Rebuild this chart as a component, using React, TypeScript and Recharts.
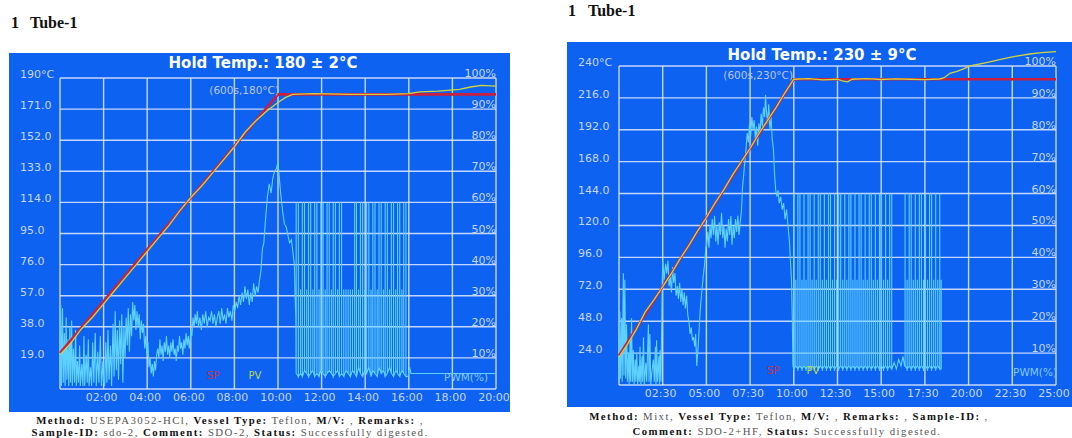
import { ComposedChart, Line, XAxis, YAxis, ReferenceLine } from 'recharts';

const FONT = '"DejaVu Sans", sans-serif';
const BG = '#0d62f2';
const GRID = 'rgba(228,236,255,0.85)';
const LABEL = '#c6d6ff';
const SP_COLOR = '#c8203e';
const PV_COLOR = '#d2d43c';
const PWM_COLOR = '#5ed2ff';

type Pt = [number, number];
// heater pulse: [time s, peak %, floor %]
type Pulse = [number, number, number];

// ---- left run: 20 min, hold 180 °C ----
const leftTimeTicks = [0, 120, 240, 360, 480, 600, 720, 840, 960, 1080, 1200];
const leftTempTicks = [0, 19, 38, 57, 76, 95, 114, 133, 152, 171, 190];
const pctTicks = [10, 20, 30, 40, 50, 60, 70, 80, 90, 100];

const leftSP: Pt[] = [[0, 22], [600, 180], [1200, 180]];
const leftPV: Pt[] = [
  [0, 21], [30, 28], [60, 37], [90, 44], [120, 52], [150, 60], [180, 68], [210, 76], [240, 84],
  [270, 92], [300, 100], [330, 109], [360, 117], [390, 124], [420, 132], [450, 140], [480, 148],
  [510, 157], [540, 164], [570, 170], [600, 175], [620, 178], [640, 180], [700, 180.5], [800, 180],
  [900, 180], [960, 180.5], [990, 181.5], [1040, 182], [1100, 183], [1130, 184.5], [1160, 185.5], [1200, 185],
];
const leftPwmRamp: Pt[] = [
  [0, 2], [2, 27], [4, 1], [7, 26], [9, 2], [12, 18], [14, 1], [17, 23], [19, 3], [22, 16], [24, 1], [27, 20],
  [29, 2], [32, 22], [34, 1], [37, 13], [40, 2], [43, 19], [45, 1], [48, 9], [51, 2], [54, 14], [56, 1], [60, 8],
  [63, 1], [66, 17], [68, 1], [72, 11], [75, 2], [78, 16], [80, 1], [84, 7], [87, 1], [90, 15], [93, 2], [97, 18],
  [100, 1], [104, 12], [107, 2], [111, 17], [114, 1], [118, 9], [120, 2], [123, 1], [126, 15], [129, 2], [132, 19],
  [135, 3], [139, 14], [142, 1], [146, 21], [149, 4], [152, 25], [155, 6], [158, 19], [161, 3], [164, 22], [167, 8],
  [170, 24], [173, 2], [176, 20], [179, 10], [182, 23], [185, 14], [188, 26], [191, 12], [194, 24], [197, 17],
  [200, 28], [203, 22], [206, 27], [209, 19], [212, 25], [215, 20], [218, 24], [221, 16], [224, 22], [227, 18],
  [230, 21], [233, 13], [236, 17], [239, 11], [242, 15], [245, 7], [248, 10], [251, 5], [254, 8], [257, 4], [260, 9],
  [263, 6], [266, 11], [269, 13], [272, 10], [275, 16], [278, 11], [281, 14], [284, 9], [287, 15], [290, 12],
  [293, 17], [296, 11], [299, 14], [302, 10], [305, 15], [308, 12], [311, 16], [314, 11], [317, 13], [320, 9],
  [323, 14], [326, 12], [329, 17], [332, 13], [335, 15], [338, 11], [341, 16], [344, 13], [347, 18], [350, 14],
  [353, 17], [356, 13], [360, 19], [363, 17], [366, 23], [369, 20], [372, 24], [375, 21], [378, 25], [381, 20],
  [385, 23], [389, 19], [393, 24], [397, 21], [401, 25], [405, 20], [409, 23], [413, 22], [417, 25], [421, 21],
  [425, 24], [429, 20], [433, 23], [437, 25], [441, 21], [445, 26], [449, 22], [453, 24], [457, 21], [461, 26],
  [465, 23], [469, 25], [473, 22], [477, 27], [481, 25], [485, 28], [489, 26], [493, 30], [497, 27], [501, 31],
  [505, 28], [509, 33], [513, 29], [517, 32], [521, 27], [525, 31], [529, 28], [533, 34], [537, 30], [541, 33],
  [545, 31], [549, 35], [553, 38], [557, 45], [561, 47], [566, 55], [571, 62], [576, 66], [581, 63], [586, 68],
  [591, 70], [596, 71], [600, 73], [605, 66], [609, 61], [614, 56], [618, 53], [623, 52], [628, 49], [632, 47],
  [637, 48], [641, 44], [645, 40], [647, 30], [649, 23],
];
const leftPulses: Pulse[] = [
  [650, 60, 5], [656, 60, 4], [662, 32, 5], [667, 60, 4], [673, 60, 6], [679, 32, 5], [684, 60, 4], [690, 60, 5],
  [696, 32, 6], [701, 60, 4], [707, 60, 5], [713, 32, 4], [718, 60, 6], [724, 60, 5], [730, 32, 4], [735, 60, 5],
  [741, 60, 6], [747, 32, 5], [752, 60, 4], [758, 60, 5], [764, 32, 6], [769, 60, 4], [775, 60, 5], [781, 32, 4],
  [787, 32, 6], [793, 32, 5], [799, 32, 4], [805, 32, 6], [811, 60, 5], [816, 60, 4], [822, 32, 7], [827, 60, 5],
  [833, 60, 4], [839, 32, 6], [844, 60, 5], [850, 60, 7], [856, 32, 4], [861, 60, 6], [867, 60, 5], [873, 32, 4],
  [878, 60, 7], [884, 60, 5], [890, 32, 6], [895, 60, 4], [901, 60, 5], [907, 32, 7], [912, 60, 5], [918, 60, 4],
  [924, 32, 6], [929, 60, 5], [935, 60, 4], [941, 32, 6], [946, 60, 5], [952, 60, 4],
];
const leftPwmTail: Pt[] = [[958, 4], [962, 7], [966, 5], [975, 5], [1000, 5], [1100, 5], [1200, 5]];

// ---- right run: 25 min, hold 230 °C ----
const rightTimeTicks = [0, 150, 300, 450, 600, 750, 900, 1050, 1200, 1350, 1500];
const rightTempTicks = [0, 24, 48, 72, 96, 120, 144, 168, 192, 216, 240];

const rightSP: Pt[] = [[0, 22], [600, 230], [1500, 230]];
const rightPV: Pt[] = [
  [0, 21], [30, 31], [60, 42], [90, 55], [120, 64], [150, 74], [180, 84], [210, 95], [240, 105], [270, 116],
  [300, 126], [330, 137], [360, 147], [390, 158], [420, 168], [450, 178], [480, 189], [510, 199], [540, 209],
  [570, 220], [600, 230], [650, 230.5], [700, 229.5], [750, 230], [770, 228.5], [785, 228], [800, 230],
  [850, 230.5], [900, 229.8], [950, 230.3], [1000, 230], [1050, 229.7], [1100, 230.2], [1115, 231], [1136, 234.5],
  [1160, 236], [1185, 238], [1204, 240], [1240, 241.5], [1273, 243], [1310, 245], [1342, 246.5], [1380, 248],
  [1410, 249], [1450, 250], [1500, 250.8],
];
const rightPwmRamp: Pt[] = [
  [0, 1], [3, 23], [5, 2], [9, 21], [11, 1], [15, 35], [17, 3], [20, 33], [23, 2], [26, 19], [29, 1], [33, 10],
  [35, 0], [38, 14], [40, 1], [43, 21], [46, 1], [49, 11], [52, 0], [56, 8], [58, 1], [61, 10], [64, 0], [68, 6],
  [70, 1], [72, 12], [75, 0], [79, 9], [81, 1], [84, 15], [87, 0], [92, 7], [95, 1], [101, 19], [103, 1], [106, 16],
  [109, 0], [114, 5], [118, 8], [121, 1], [125, 12], [127, 0], [129, 14], [132, 1], [137, 9], [139, 0], [141, 11],
  [144, 1], [148, 30], [150, 39], [155, 33], [160, 38], [164, 35], [168, 39], [172, 31], [176, 34], [180, 29],
  [184, 37], [188, 32], [192, 35], [196, 28], [200, 31], [204, 27], [208, 32], [212, 26], [216, 30], [220, 25],
  [224, 29], [228, 24], [232, 28], [236, 22], [240, 20], [244, 16], [248, 18], [252, 14], [256, 15], [260, 12],
  [263, 16], [267, 6], [270, 10], [273, 14], [276, 19], [280, 25], [284, 29], [289, 34], [294, 38], [298, 43],
  [301, 44], [305, 48], [309, 43], [312, 50], [316, 46], [320, 52], [324, 47], [328, 53], [332, 45], [336, 50],
  [340, 44], [344, 51], [348, 47], [352, 54], [356, 46], [360, 50], [364, 43], [368, 49], [372, 45], [376, 52],
  [380, 47], [384, 53], [388, 44], [392, 50], [396, 46], [400, 52], [404, 48], [408, 53], [412, 47], [416, 51],
  [420, 54], [424, 62], [428, 66], [432, 70], [436, 74], [440, 79], [444, 76], [448, 82], [452, 78], [456, 84],
  [460, 80], [464, 83], [468, 77], [472, 81], [476, 75], [480, 82], [484, 79], [488, 85], [492, 81], [496, 87],
  [500, 84], [503, 91], [506, 86], [510, 82], [514, 88], [518, 80], [522, 84], [526, 77], [530, 74], [534, 66],
  [538, 61], [542, 59], [546, 61], [550, 57], [555, 59], [560, 55], [565, 57], [570, 52], [575, 55], [580, 50],
  [585, 45], [589, 38], [592, 33], [595, 20], [597, 6],
];
const rightPulsesA: Pulse[] = [
  [600, 60, 5], [607, 33, 6], [614, 60, 5], [621, 60, 6], [628, 33, 5], [635, 60, 6], [642, 33, 5], [649, 60, 6],
  [656, 60, 5], [663, 33, 6], [670, 60, 5], [677, 33, 6], [684, 60, 5], [691, 60, 6], [698, 33, 5], [705, 60, 6],
  [712, 33, 5], [719, 60, 6], [726, 60, 5], [733, 33, 6], [740, 60, 5], [747, 33, 6], [754, 60, 5], [761, 60, 6],
  [768, 33, 5], [775, 60, 6], [782, 33, 5], [789, 60, 6], [796, 60, 5], [803, 33, 6], [810, 60, 5], [817, 33, 6],
  [824, 60, 5], [831, 60, 6], [838, 33, 5], [845, 60, 6], [852, 33, 5], [859, 60, 6], [866, 60, 5], [873, 33, 6],
  [880, 60, 5], [887, 33, 6], [894, 60, 5], [901, 60, 6], [908, 33, 5], [915, 60, 6], [922, 33, 5], [929, 60, 6],
  [936, 60, 5],
];
const rightPwmGap: Pt[] = [[945, 7], [952, 5], [960, 8], [968, 6], [975, 9], [980, 6]];
const rightPulsesB: Pulse[] = [
  [982, 60, 6], [989, 33, 5], [996, 60, 6], [1003, 60, 5], [1010, 33, 6], [1017, 60, 5], [1024, 33, 6],
  [1031, 60, 5], [1038, 60, 6], [1045, 33, 5], [1052, 60, 6], [1059, 33, 5], [1066, 60, 6], [1073, 60, 5],
  [1080, 33, 6], [1087, 60, 5], [1094, 33, 6], [1101, 60, 5], [1106, 33, 5],
];
const rightPwmTail: Pt[] = [[1108, 5]];

const toRows = (pts: Pt[]) => pts.map(([t, v]) => ({ t, v }));
// each pulse is a vertical stroke floor -> peak -> floor at its time
const pulseRows = (ps: Pulse[]) =>
  ps.flatMap(([t, hi, lo]) => [{ t, v: lo }, { t, v: hi }, { t, v: lo }]);

const leftPWM = [...toRows(leftPwmRamp), ...pulseRows(leftPulses), ...toRows(leftPwmTail)];
const rightPWM = [
  ...toRows(rightPwmRamp), ...pulseRows(rightPulsesA), ...toRows(rightPwmGap),
  ...pulseRows(rightPulsesB), ...toRows(rightPwmTail),
];

const mmss = (s: number) => {
  const m = Math.floor(s / 60);
  const r = s % 60;
  return `${String(m).padStart(2, '0')}:${String(r).padStart(2, '0')}`;
};

interface RunCfg {
  w: number;
  h: number;
  top: number;
  leftW: number;
  rightW: number;
  axisH: number;
  timeTicks: number[];
  tempTicks: number[];
  tempDomain: [number, number];
  pctDomain: [number, number];
  sp: Pt[];
  pv: Pt[];
  pwm: { t: number; v: number }[];
}

function RunChart({ cfg }: { cfg: RunCfg }) {
  const tMax = cfg.timeTicks[cfg.timeTicks.length - 1];
  const tempTop = cfg.tempTicks[cfg.tempTicks.length - 1];
  const txt = { fill: LABEL, fontSize: 11, fontFamily: FONT };

  return (
    <ComposedChart width={cfg.w} height={cfg.h} margin={{ top: cfg.top, right: 0, bottom: 0, left: 0 }}>
      <XAxis
        type="number"
        dataKey="t"
        domain={[0, tMax]}
        ticks={cfg.timeTicks.slice(1)}
        interval={0}
        height={cfg.axisH}
        axisLine={false}
        tickLine={false}
        tickSize={0}
        tickMargin={0}
        tick={(p: any) => (
          <text x={p.x - 2} y={p.y + 12} textAnchor="middle" {...txt}>{mmss(p.payload.value)}</text>
        )}
      />
      <YAxis
        yAxisId="temp"
        type="number"
        domain={cfg.tempDomain}
        ticks={cfg.tempTicks.slice(1)}
        interval={0}
        width={cfg.leftW}
        axisLine={false}
        tickLine={false}
        tickSize={0}
        tickMargin={0}
        tick={(p: any) => (
          <text x={p.x - cfg.leftW + 11} y={p.y} textAnchor="start" {...txt}>
            {p.payload.value === tempTop ? `${tempTop}°C` : Number(p.payload.value).toFixed(1)}
          </text>
        )}
      />
      <YAxis
        yAxisId="pct"
        orientation="right"
        type="number"
        domain={cfg.pctDomain}
        ticks={pctTicks}
        interval={0}
        width={cfg.rightW}
        axisLine={false}
        tickLine={false}
        tickSize={0}
        tickMargin={0}
        tick={(p: any) => (
          <text x={p.x} y={p.y - 1} textAnchor="end" {...txt}>{`${p.payload.value}%`}</text>
        )}
      />
      {cfg.tempTicks.map((v) => (
        <ReferenceLine key={`h${v}`} yAxisId="temp" y={v} stroke={GRID} strokeWidth={1.4} />
      ))}
      {cfg.timeTicks.map((t) => (
        <ReferenceLine
          key={`v${t}`}
          yAxisId="temp"
          segment={[{ x: t, y: 0 }, { x: t, y: tempTop }]}
          stroke={GRID}
          strokeWidth={1.4}
        />
      ))}
      <Line yAxisId="pct" data={cfg.pwm} dataKey="v" type="linear" stroke={PWM_COLOR} strokeWidth={1.1} dot={false} isAnimationActive={false} />
      <Line yAxisId="temp" data={toRows(cfg.sp)} dataKey="v" type="linear" stroke={SP_COLOR} strokeWidth={2.6} dot={false} isAnimationActive={false} />
      <Line yAxisId="temp" data={toRows(cfg.pv)} dataKey="v" type="linear" stroke={PV_COLOR} strokeWidth={1.3} dot={false} isAnimationActive={false} />
    </ComposedChart>
  );
}

const abs = (extra: React.CSSProperties): React.CSSProperties => ({ position: 'absolute', whiteSpace: 'nowrap', ...extra });
const B = ({ children }: { children: React.ReactNode }) => <b style={{ color: '#111' }}>{children}</b>;

export default function App() {
  const chartText = { fontFamily: FONT, lineHeight: '14px' };
  const caption = { fontSize: 10.8, lineHeight: '12px', height: 12, letterSpacing: 1.45, transform: 'translateX(-50%)' };
  return (
    <div style={{ position: 'absolute', left: 0, top: 0, width: 1072, height: 438, overflow: 'hidden', background: '#fff', fontFamily: '"Liberation Serif", serif', color: '#555' }}>
      {/* headings */}
      <div style={abs({ left: 11, top: 14, fontSize: 16, fontWeight: 700, color: '#111' })}>1</div>
      <div style={abs({ left: 30, top: 14, fontSize: 16, fontWeight: 700, color: '#111' })}>Tube-1</div>
      <div style={abs({ left: 568, top: 2, fontSize: 16, fontWeight: 700, color: '#111' })}>1</div>
      <div style={abs({ left: 588, top: 2, fontSize: 16, fontWeight: 700, color: '#111' })}>Tube-1</div>

      {/* left run */}
      <div style={abs({ left: 9, top: 53, width: 501, height: 359, background: BG })}>
        <RunChart
          cfg={{
            w: 501, h: 359, top: 25, leftW: 51, rightW: 14, axisH: 23,
            timeTicks: leftTimeTicks, tempTicks: leftTempTicks, tempDomain: [0, 190], pctDomain: [0, 100],
            sp: leftSP, pv: leftPV, pwm: leftPWM,
          }}
        />
        <div style={abs({ ...chartText, left: 254, top: 1, transform: 'translateX(-50%)', fontSize: 15, fontWeight: 700, color: '#fff', lineHeight: '18px' })}>Hold Temp.: 180 ± 2°C</div>
        <div style={abs({ ...chartText, right: 231, top: 30, fontSize: 10.5, color: '#b9c6ea' })}>(600s,180°C)</div>
        <div style={abs({ ...chartText, left: 204, top: 316, transform: 'translateX(-50%)', fontSize: 10, color: '#c8304a' })}>SP</div>
        <div style={abs({ ...chartText, left: 246, top: 316, transform: 'translateX(-50%)', fontSize: 10, color: '#b9d84a' })}>PV</div>
        <div style={abs({ ...chartText, right: 22, top: 317, fontSize: 10.5, color: '#86c8ff' })}>PWM(%)</div>
      </div>
      <div style={abs({ ...caption, left: 230, top: 414 })}>
        <B>Method:</B> USEPA3052-HCl, <B>Vessel Type:</B> Teflon, <B>M/V:</B> , <B>Remarks:</B> ,
      </div>
      <div style={abs({ ...caption, left: 230, top: 426 })}>
        <B>Sample-ID:</B> sdo-2, <B>Comment:</B> SDO-2, <B>Status:</B> Successfully digested.
      </div>

      {/* right run */}
      <div style={abs({ left: 567, top: 42, width: 505, height: 365, background: BG })}>
        <RunChart
          cfg={{
            w: 505, h: 365, top: 8, leftW: 52, rightW: 16, axisH: 22,
            timeTicks: rightTimeTicks, tempTicks: rightTempTicks, tempDomain: [0, 252], pctDomain: [0, 105],
            sp: rightSP, pv: rightPV, pwm: rightPWM,
          }}
        />
        <div style={abs({ ...chartText, left: 255, top: 4, transform: 'translateX(-50%)', fontSize: 15, fontWeight: 700, color: '#fff', lineHeight: '18px' })}>Hold Temp.: 230 ± 9°C</div>
        <div style={abs({ ...chartText, right: 279, top: 26, fontSize: 10.5, color: '#b9c6ea' })}>(600s,230°C)</div>
        <div style={abs({ ...chartText, left: 206, top: 322, transform: 'translateX(-50%)', fontSize: 10, color: '#c8304a' })}>SP</div>
        <div style={abs({ ...chartText, left: 246, top: 322, transform: 'translateX(-50%)', fontSize: 10, color: '#b9d84a' })}>PV</div>
        <div style={abs({ ...chartText, right: 15, top: 323, fontSize: 10.5, color: '#86c8ff' })}>PWM(%)</div>
      </div>
      <div style={abs({ ...caption, left: 789, top: 410 })}>
        <B>Method:</B> Mixt, <B>Vessel Type:</B> Teflon, <B>M/V:</B> , <B>Remarks:</B> , <B>Sample-ID:</B> ,
      </div>
      <div style={abs({ ...caption, left: 787, top: 425 })}>
        <B>Comment:</B> SDO-2+HF, <B>Status:</B> Successfully digested.
      </div>
    </div>
  );
}
